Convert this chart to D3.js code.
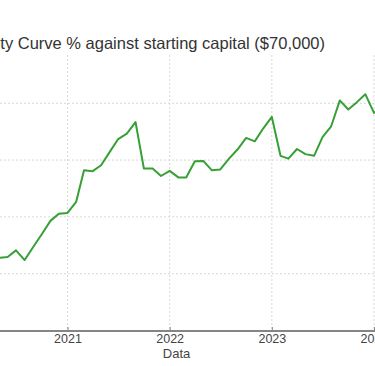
<!DOCTYPE html>
<html>
<head>
<meta charset="utf-8">
<script src="https://cdn.jsdelivr.net/npm/d3@7"></script>
<style>
  html, body { margin: 0; padding: 0; background: #fff; }
  svg { display: block; }
</style>
</head>
<body>
<svg id="chart" width="375" height="366"></svg>
<script>
// ---- data ----
const months = [
  "2020-04","2020-05","2020-06","2020-07","2020-08","2020-09","2020-10","2020-11","2020-12",
  "2021-01","2021-02","2021-03","2021-04","2021-05","2021-06","2021-07","2021-08","2021-09","2021-10","2021-11","2021-12",
  "2022-01","2022-02","2022-03","2022-04","2022-05","2022-06","2022-07","2022-08","2022-09","2022-10","2022-11","2022-12",
  "2023-01","2023-02","2023-03","2023-04","2023-05","2023-06","2023-07","2023-08","2023-09","2023-10","2023-11","2023-12",
  "2024-01","2024-02"
];
const equityPct = [
  25.4, 25.6, 25.9, 28.2, 24.8, 29.5, 33.9, 38.6, 41.1,
  41.4, 45.3, 56.4, 56.1, 58.2, 62.9, 67.4, 69.3, 73.4, 57.0, 57.0, 54.4,
  56.2, 53.9, 53.9, 59.6, 59.7, 56.4, 56.7, 60.5, 63.8, 67.8, 66.6, 71.1,
  75.2, 61.5, 60.5, 63.9, 62.1, 61.5, 68.1, 71.9, 81.0, 77.8, 80.4, 83.2,
  76.6, 79.3
];
const yearTicks = ["2021", "2022", "2023", "2024"];
const yTicks = [20, 40, 60, 80];
const titleText = "Equity Curve % against starting capital ($70,000)";
const xTitle = "Data";

// ---- layout ----
const svg = d3.select("#chart");
const plotTop = 55, plotBottom = 331, plotLeft = 0, plotRight = 375;
const parseM = d3.utcParse("%Y-%m");
const parseY = d3.utcParse("%Y");

const x = d3.scaleUtc()
  .domain([parseY("2021"), parseY("2024")])
  .range([67.5, 374]);
const y = d3.scaleLinear()
  .domain([0, 97])
  .range([330.5, 55]);

const data = months.map((m, i) => ({ date: parseM(m), v: equityPct[i] }));

// gridlines
const grid = svg.append("g");
grid.selectAll("line.h").data(yTicks).join("line")
  .attr("x1", plotLeft).attr("x2", plotRight)
  .attr("y1", d => y(d)).attr("y2", d => y(d))
  .attr("stroke", "#d8d8d8").attr("stroke-width", 1).attr("stroke-dasharray", "2,2");
grid.selectAll("line.v").data(yearTicks).join("line")
  .attr("x1", d => x(parseY(d))).attr("x2", d => x(parseY(d)))
  .attr("y1", plotTop).attr("y2", plotBottom)
  .attr("stroke", "#d8d8d8").attr("stroke-width", 1).attr("stroke-dasharray", "2,2");

// line
const line = d3.line().x(d => x(d.date)).y(d => y(d.v));
svg.append("path").datum(data)
  .attr("d", line)
  .attr("fill", "none")
  .attr("stroke", "#36a036")
  .attr("stroke-width", 2)
  .attr("stroke-linejoin", "round");

// x axis
const xAxis = d3.axisBottom(x)
  .tickValues(yearTicks.map(parseY))
  .tickFormat(d3.utcFormat("%Y"))
  .tickSizeInner(-4).tickSizeOuter(0).tickPadding(3);
const gx = svg.append("g").attr("transform", `translate(0,${plotBottom})`).call(xAxis);
gx.select(".domain").remove();
gx.append("line").attr("x1", -10).attr("x2", 400).attr("y1", 0).attr("y2", 0)
  .attr("stroke", "#858585").attr("stroke-width", 2);
gx.selectAll(".tick line").attr("stroke", "#858585").attr("stroke-width", 1);
gx.selectAll(".tick text")
  .attr("font-family", "'Liberation Sans', Arial, sans-serif")
  .attr("font-size", 12.5).attr("fill", "#444");

svg.append("text")
  .attr("x", 176.5).attr("y", 358)
  .attr("text-anchor", "middle")
  .attr("font-family", "'Liberation Sans', Arial, sans-serif")
  .attr("font-size", 13).attr("fill", "#444")
  .text(xTitle);

// title
svg.append("text")
  .attr("x", 325).attr("y", 49)
  .attr("text-anchor", "end")
  .attr("font-family", "'Liberation Sans', Arial, sans-serif")
  .attr("font-size", 16.5).attr("fill", "#333")
  .text(titleText);
</script>
</body>
</html>
